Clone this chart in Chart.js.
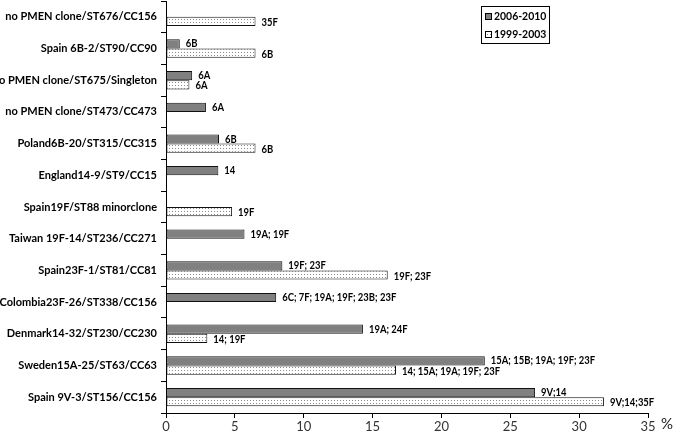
<!DOCTYPE html>
<html>
<head>
<meta charset="utf-8">
<script src="https://cdn.jsdelivr.net/npm/chart.js@4.4.0/dist/chart.umd.min.js"></script>
<style>
  html, body { margin: 0; padding: 0; background: #fff; }
  #wrap { width: 700px; height: 431px; }
</style>
</head>
<body>
<div id="wrap"><canvas id="myChart"></canvas></div>
<script>
// clones, top to bottom
const clones = [
  'no PMEN clone/ST676/CC156',
  'Spain 6B-2/ST90/CC90',
  'no PMEN clone/ST675/Singleton',
  'no PMEN clone/ST473/CC473',
  'Poland6B-20/ST315/CC315',
  'England14-9/ST9/CC15',
  'Spain19F/ST88 minorclone',
  'Taiwan 19F-14/ST236/CC271',
  'Spain23F-1/ST81/CC81',
  'Colombia23F-26/ST338/CC156',
  'Denmark14-32/ST230/CC230',
  'Sweden15A-25/ST63/CC63',
  'Spain 9V-3/ST156/CC156'
];
const seriesNames = ['2006-2010', '1999-2003'];
const recent = [null, 1.0, 1.9, 2.9, 3.85, 3.8, null, 5.7, 8.45, 8.0, 14.3, 23.15, 26.8];
const early = [6.5, 6.5, 1.7, null, 6.5, null, 4.8, null, 16.1, null, 3.0, 16.7, 31.8];
const recentTypes = ['', '6B', '6A', '6A', '6B', '14', '', '19A; 19F', '19F; 23F',
  '6C; 7F; 19A; 19F; 23B; 23F', '19A; 24F', '15A; 15B; 19A; 19F; 23F', '9V;14'];
const earlyTypes = ['35F', '6B', '6A', '', '6B', '', '19F', '', '19F; 23F',
  '', '14; 19F', '14; 15A; 19A; 19F; 23F', '9V;14;35F'];
const xTicks = [0, 5, 10, 15, 20, 25, 30, 35];

function dots() {
  var c = document.createElement('canvas');
  c.width = 3; c.height = 3;
  var g = c.getContext('2d');
  g.fillStyle = '#ffffff';
  g.fillRect(0, 0, 3, 3);
  g.fillStyle = '#8a8a8a';
  g.fillRect(1, 1, 1, 1);
  return g.createPattern(c, 'repeat');
}
const dotFill = dots();

// text squeezed a bit horizontally (original font is narrower than Lato)
function narrowText(ctx, text, x, y, sx) {
  ctx.save();
  ctx.translate(x, y);
  ctx.scale(sx, 1);
  ctx.fillText(text, 0, 0);
  ctx.restore();
}

// serotype text at the end of each bar
const barLabels = {
  id: 'barLabels',
  afterDatasetsDraw(chart) {
    const ctx = chart.ctx;
    const texts = [recentTypes, earlyTypes];
    ctx.save();
    ctx.font = 'bold 11px Lato';
    ctx.fillStyle = '#000';
    ctx.textBaseline = 'middle';
    chart.data.datasets.forEach((ds, d) => {
      chart.getDatasetMeta(d).data.forEach((bar, i) => {
        if (ds.data[i] == null || !texts[d][i]) return;
        narrowText(ctx, texts[d][i], bar.x + 6, bar.y + (d ? 1 : 0), 0.86);
      });
    });
    ctx.restore();
  }
};

// boxed legend inside the plot + the % unit
const extras = {
  id: 'extras',
  afterDraw(chart) {
    const ctx = chart.ctx;
    ctx.save();
    ctx.strokeStyle = '#000';
    ctx.lineWidth = 1;
    ctx.strokeRect(481.5, 6.5, 68, 37);
    ctx.font = 'bold 12px Lato';
    ctx.textBaseline = 'middle';
    chart.data.datasets.forEach((ds, d) => {
      var y = 16.5 + d * 18;
      ctx.fillStyle = ds.backgroundColor;
      ctx.fillRect(485, y - 3.5, 7, 7);
      ctx.strokeRect(485.5, y - 3, 6, 6);
      ctx.fillStyle = '#000';
      narrowText(ctx, ds.label, 494, y, 0.87);
    });
    ctx.font = '15px Lato';
    ctx.fillStyle = '#222';
    ctx.fillText('%', chart.chartArea.right + 13, chart.chartArea.bottom + 11);
    ctx.restore();
  }
};

new Chart(document.getElementById('myChart'), {
  type: 'bar',
  data: {
    labels: clones,
    datasets: [
      { label: seriesNames[0], data: recent, backgroundColor: '#808080', borderColor: '#111', borderWidth: 1, borderSkipped: false },
      { label: seriesNames[1], data: early, backgroundColor: dotFill, borderColor: '#111', borderWidth: 1, borderSkipped: false }
    ]
  },
  options: {
    indexAxis: 'y',
    responsive: true,
    maintainAspectRatio: false,
    animation: false,
    categoryPercentage: 0.58,
    barPercentage: 1.0,
    layout: { padding: { top: 1, right: 52, left: 0, bottom: 0 } },
    plugins: { legend: { display: false }, tooltip: { enabled: false } },
    scales: {
      x: {
        min: 0,
        max: 35,
        afterBuildTicks: s => { s.ticks = xTicks.map(v => ({ value: v })); },
        grid: { drawOnChartArea: false, drawTicks: true, tickLength: 5, color: '#000' },
        border: { color: '#000' },
        ticks: { font: { family: 'Lato', size: 13 }, color: '#333', padding: 1 },
        afterFit: s => { s.height = 18; }
      },
      y: {
        grid: { drawOnChartArea: false, drawTicks: true, tickLength: 5, color: '#000', offset: true },
        border: { color: '#000' },
        ticks: { font: { family: 'Lato', size: 11, weight: 'bold' }, color: '#000', padding: 4 },
        afterFit: s => { s.width = 166; s.paddingTop = 0; s.paddingBottom = 0; }
      }
    }
  },
  plugins: [barLabels, extras]
});
</script>
</body>
</html>
